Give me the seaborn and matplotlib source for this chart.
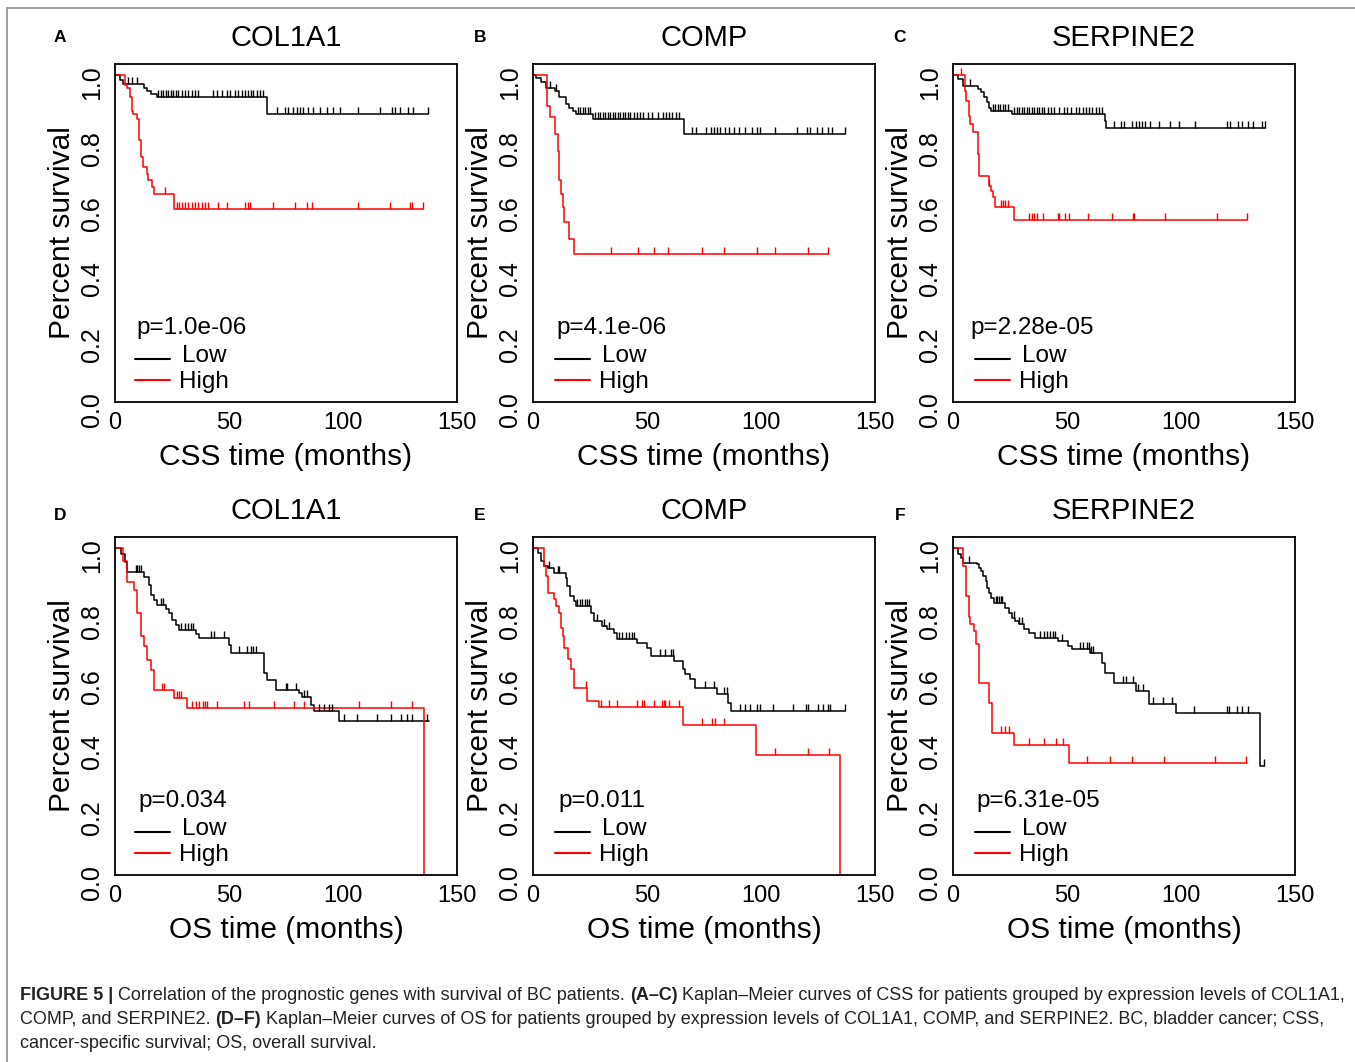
import matplotlib
matplotlib.use("Agg")
import matplotlib.pyplot as plt
import numpy as np
import seaborn as sns
from matplotlib.markers import MarkerStyle
from matplotlib.patches import Rectangle
from matplotlib.transforms import Affine2D

# ---- data (months, survival fraction) ----
genes = ["COL1A1", "COMP", "SERPINE2", "COL1A1", "COMP", "SERPINE2"]
letters = ["A", "B", "C", "D", "E", "F"]
pvalues = ["p=1.0e-06", "p=4.1e-06", "p=2.28e-05", "p=0.034", "p=0.011", "p=6.31e-05"]
xlabels = ["CSS time (months)"] * 3 + ["OS time (months)"] * 3

a_low_t = [0, 2.2, 3.7, 12.8, 14.2, 15.6, 18.3, 66.7, 137.4]
a_low_s = [1.0, 0.985, 0.971, 0.961, 0.951, 0.941, 0.931, 0.880, 0.880]
a_low_cens = [5.8, 7.3, 9.8, 19.0, 20.0, 21.2, 22.2, 23.4, 24.4, 25.6, 26.8, 27.8, 29.2, 30.7,
              32.2, 33.6, 35.1, 36.5, 43.1, 44.6, 46.8, 49.0, 50.4, 52.6, 54.1, 55.6, 57.0, 58.5,
              59.5, 60.7, 62.1, 63.6, 65.1, 70.9, 74.6, 76.0, 78.2, 79.7, 81.1, 82.6, 84.8, 87.0,
              89.9, 92.8, 95.8, 98.7, 106.7, 116.2, 121.3, 122.8, 125.0, 128.7, 130.9, 137.4]
a_high_t = [0, 4.4, 5.1, 6.6, 7.3, 8.0, 9.8, 10.7, 11.3, 12.4, 13.9, 14.6, 16.1, 17.1, 25.9, 135.2]
a_high_s = [1.0, 0.97, 0.961, 0.931, 0.89, 0.88, 0.865, 0.80, 0.748, 0.717, 0.697, 0.677, 0.656,
            0.636, 0.59, 0.59]
a_high_cens = [21.9, 27.0, 28.1, 29.2, 30.7, 32.2, 33.6, 35.1, 36.5, 38.0, 39.5, 40.9, 45.3, 49.0,
               57.0, 58.5, 59.2, 69.4, 78.9, 84.1, 86.3, 106.7, 120.6, 129.4, 130.1, 135.2]

b_low_t = [0, 1.5, 3.6, 5.8, 9.5, 11.6, 14.6, 16.0, 17.5, 18.9, 26.2, 66.4, 136.8]
b_low_s = [1.0, 0.99, 0.977, 0.96, 0.95, 0.931, 0.91, 0.90, 0.89, 0.88, 0.865, 0.819, 0.819]
b_low_cens = [7.3, 10.2, 19.7, 20.7, 21.8, 23.0, 24.0, 25.0, 27.3, 28.5, 29.5, 30.6, 31.7, 32.7,
              33.9, 34.9, 36.1, 37.2, 38.3, 39.3, 40.5, 41.6, 42.6, 44.1, 45.5, 47.0, 48.4, 50.6,
              52.0, 55.0, 56.8, 58.2, 59.7, 61.1, 62.6, 64.0, 69.9, 71.3, 75.7, 77.9, 79.3, 80.8,
              82.2, 84.4, 85.9, 88.1, 90.3, 93.2, 96.1, 98.3, 99.7, 106.3, 115.7, 120.1, 121.5,
              124.5, 126.6, 129.5, 131.0, 136.8]
b_high_t = [0, 6.1, 7.3, 9.5, 10.9, 11.6, 12.4, 13.1, 13.8, 15.7, 17.8, 129.5]
b_high_s = [1.0, 0.905, 0.87, 0.82, 0.768, 0.68, 0.636, 0.595, 0.549, 0.498, 0.453, 0.453]
b_high_cens = [34.2, 45.9, 53.1, 59.0, 74.2, 83.7, 98.3, 106.3, 120.8, 129.5]

c_low_t = [0, 2.2, 4.4, 10.9, 12.4, 13.8, 14.8, 15.7, 16.7, 25.9, 66.7, 67.2, 136.8]
c_low_s = [1.0, 0.987, 0.966, 0.956, 0.946, 0.931, 0.916, 0.90, 0.89, 0.88, 0.86, 0.837, 0.837]
c_low_cens = [7.3, 17.5, 18.6, 19.7, 20.7, 21.8, 23.0, 24.0, 26.9, 27.9, 29.1, 30.3, 31.3, 32.5,
              33.5, 34.6, 35.7, 36.8, 37.8, 39.0, 40.0, 41.5, 42.9, 44.4, 46.6, 48.8, 50.2, 51.7,
              53.9, 55.3, 56.8, 58.2, 59.7, 61.1, 62.6, 64.0, 65.5, 70.6, 73.5, 75.0, 78.6, 80.1,
              81.5, 83.0, 84.4, 86.6, 90.2, 95.3, 99.0, 106.3, 120.1, 121.5, 125.2, 126.6, 129.5,
              131.7, 135.4, 136.8]
c_high_t = [0, 5.1, 5.8, 6.8, 7.6, 8.7, 10.9, 11.6, 15.7, 16.7, 17.5, 18.6, 26.9, 128.8]
c_high_s = [1.0, 0.95, 0.92, 0.875, 0.85, 0.824, 0.758, 0.692, 0.661, 0.646, 0.626, 0.595, 0.556,
            0.556]
c_high_cens = [3.3, 16.0, 21.1, 22.1, 23.0, 24.0, 33.5, 34.6, 35.7, 36.7, 39.6, 45.9, 46.6, 49.1,
               50.7, 59.0, 69.6, 78.9, 79.3, 92.9, 115.7, 128.8]

d_low_t = [0, 2.5, 4.5, 5.4, 12.7, 14.9, 15.7, 17.1, 18.6, 22.2, 23.7, 25.2, 26.6, 28.1, 35.4, 36.9,
           50.0, 50.7, 65.4, 66.8, 70.5, 80.7, 82.2, 85.8, 87.3, 98.3, 137.7]
d_low_s = [1.0, 0.98, 0.956, 0.926, 0.91, 0.885, 0.855, 0.84, 0.824, 0.814, 0.80, 0.78, 0.763,
           0.748, 0.738, 0.723, 0.702, 0.677, 0.616, 0.596, 0.565, 0.555, 0.545, 0.52, 0.50, 0.472,
           0.472]
d_low_cens = [9.1, 9.8, 10.5, 11.6, 20.0, 21.2, 28.8, 30.6, 32.0, 33.2, 34.4, 42.0, 43.4, 47.8,
              54.4, 58.0, 59.5, 60.7, 61.7, 74.9, 75.6, 79.3, 82.9, 84.4, 89.5, 91.7, 93.9, 95.3,
              100.4, 106.3, 115.1, 120.9, 125.3, 128.2, 130.4, 137.0]
d_high_t = [0, 3.4, 5.4, 8.3, 9.8, 11.3, 12.7, 14.2, 15.7, 17.1, 25.9, 31.4, 135.5]
d_high_s = [1.0, 0.96, 0.895, 0.87, 0.80, 0.73, 0.70, 0.657, 0.626, 0.565, 0.54, 0.51, 0.0]
d_high_cens = [20.8, 21.5, 27.4, 28.1, 28.8, 33.9, 35.4, 36.9, 38.8, 39.3, 40.5, 44.9, 56.6, 58.8,
               69.7, 78.5, 82.9, 107.0, 120.9, 130.4]

e_low_t = [0, 2.0, 3.5, 4.9, 6.4, 9.3, 14.4, 15.1, 16.3, 18.0, 18.8, 25.3, 26.8, 30.4, 32.6, 35.5,
           36.7, 45.7, 50.1, 51.8, 61.7, 65.8, 66.8, 69.0, 71.2, 80.6, 85.7, 86.8, 136.7]
e_low_s = [1.0, 0.985, 0.96, 0.944, 0.939, 0.924, 0.908, 0.883, 0.852, 0.837, 0.822, 0.80, 0.776,
           0.761, 0.751, 0.741, 0.722, 0.71, 0.695, 0.669, 0.654, 0.629, 0.613, 0.598, 0.573, 0.552,
           0.527, 0.501, 0.501]
e_low_cens = [7.1, 10.8, 11.5, 19.5, 20.7, 21.7, 22.7, 23.9, 24.6, 28.2, 31.2, 33.3, 37.7, 39.2,
              40.6, 42.1, 43.5, 44.5, 55.9, 58.1, 60.6, 61.3, 75.5, 79.2, 83.6, 85.0, 90.8, 93.0,
              95.2, 98.1, 99.6, 105.4, 114.1, 119.9, 120.7, 125.0, 127.2, 129.4, 130.1, 136.7]
e_high_t = [0, 4.9, 5.7, 6.7, 9.3, 10.0, 11.5, 12.2, 13.0, 13.7, 15.4, 16.6, 18.0, 23.6, 29.0, 65.8,
            97.8, 134.5]
e_high_s = [1.0, 0.944, 0.915, 0.863, 0.842, 0.822, 0.80, 0.756, 0.73, 0.695, 0.66, 0.629, 0.573,
            0.532, 0.512, 0.458, 0.366, 0.0]
e_high_cens = [23.1, 29.7, 33.3, 36.7, 45.7, 47.9, 48.6, 53.0, 56.6, 57.3, 58.1, 59.5, 63.9, 74.1,
               78.5, 79.9, 83.6, 106.1, 120.7, 129.8]

f_low_t = [0, 2.0, 3.5, 4.6, 10.7, 11.4, 12.2, 13.3, 14.3, 15.1, 15.8, 16.5, 18.0, 23.0, 24.5, 25.9,
           27.4, 28.8, 31.0, 33.2, 36.1, 46.2, 50.6, 52.0, 60.0, 65.5, 66.5, 70.4, 80.3, 86.1, 97.7,
           134.5, 136.5]
f_low_s = [1.0, 0.98, 0.97, 0.954, 0.949, 0.939, 0.929, 0.913, 0.898, 0.878, 0.863, 0.847, 0.832,
           0.817, 0.80, 0.786, 0.776, 0.766, 0.751, 0.741, 0.725, 0.715, 0.70, 0.69, 0.68, 0.649,
           0.618, 0.588, 0.563, 0.522, 0.496, 0.334, 0.334]
f_low_cens = [7.1, 18.7, 19.4, 20.1, 20.9, 21.6, 26.7, 28.8, 30.3, 38.3, 39.7, 41.2, 42.6, 43.8,
              44.8, 47.7, 55.7, 57.1, 58.6, 59.7, 60.7, 61.4, 74.5, 75.7, 78.8, 81.0, 83.2, 87.5,
              91.9, 96.2, 105.7, 120.1, 120.9, 124.5, 126.7, 129.6, 136.5]
f_high_t = [0, 4.4, 5.8, 6.8, 7.6, 9.0, 10.2, 11.2, 11.6, 15.7, 17.2, 26.9, 50.9, 128.8]
f_high_s = [1.0, 0.944, 0.853, 0.79, 0.766, 0.746, 0.705, 0.659, 0.588, 0.527, 0.435, 0.398, 0.341,
            0.341]
f_high_cens = [20.9, 23.0, 24.5, 33.2, 39.7, 45.2, 48.4, 58.6, 69.0, 78.4, 92.6, 115.1, 128.6]

caption_lines = [
    [("FIGURE 5 |", True), ("Correlation of the prognostic genes with survival of BC patients.", False),
     ("(A–C)", True),
     ("Kaplan–Meier curves of CSS for patients grouped by expression levels of COL1A1,", False)],
    [("COMP, and SERPINE2.", False), ("(D–F)", True),
     ("Kaplan–Meier curves of OS for patients grouped by expression levels of COL1A1, COMP, and "
      "SERPINE2. BC, bladder cancer; CSS,", False)],
    [("cancer-specific survival; OS, overall survival.", False)],
]

panels = [
    (a_low_t, a_low_s, a_low_cens, a_high_t, a_high_s, a_high_cens),
    (b_low_t, b_low_s, b_low_cens, b_high_t, b_high_s, b_high_cens),
    (c_low_t, c_low_s, c_low_cens, c_high_t, c_high_s, c_high_cens),
    (d_low_t, d_low_s, d_low_cens, d_high_t, d_high_s, d_high_cens),
    (e_low_t, e_low_s, e_low_cens, e_high_t, e_high_s, e_high_cens),
    (f_low_t, f_low_s, f_low_cens, f_high_t, f_high_s, f_high_cens),
]

# ---- style ----
W, H = 1355, 1062
sns.set_theme(style="white")
plt.rcParams["font.family"] = ["Liberation Sans", "DejaVu Sans"]
plt.rcParams["text.color"] = "black"
plt.rcParams["axes.labelcolor"] = "black"
plt.rcParams["axes.edgecolor"] = "black"
plt.rcParams["axes.linewidth"] = 1.3
plt.rcParams["xtick.color"] = "black"
plt.rcParams["ytick.color"] = "black"
plt.rcParams["xtick.labelcolor"] = "black"
plt.rcParams["ytick.labelcolor"] = "black"

fig = plt.figure(figsize=(W / 100, H / 100), dpi=100)

ax_left = [115, 533, 953]
ax_top = [64, 537]
ax_w, ax_h = 342, 338
p_x = [0.064, 0.069, 0.05, 0.068, 0.073, 0.07]
leg_x = [0.058, 0.064, 0.064, 0.058, 0.064, 0.064]
letter_x = [60, 480, 900]
letter_y = [38, 515]

tick_marker = MarkerStyle("|", transform=Affine2D().translate(0, 0.5))


def step_value(t, s, c):
    idx = np.searchsorted(np.asarray(t), np.asarray(c), side="right") - 1
    return np.asarray(s)[idx]


for i, (lt, ls, lc, ht, hs, hc) in enumerate(panels):
    r, col = divmod(i, 3)
    left = ax_left[col]
    top = ax_top[r]
    ax = fig.add_axes([left / W, 1 - (top + ax_h) / H, ax_w / W, ax_h / H])

    for t, s, cens, color in [(lt, ls, lc, "black"), (ht, hs, hc, "red")]:
        sns.lineplot(x=t, y=s, ax=ax, color=color, lw=1.1, drawstyle="steps-post",
                     estimator=None, sort=False)
        sns.scatterplot(x=cens, y=step_value(t, s, cens), ax=ax, marker=tick_marker,
                        color=color, s=24, linewidth=1.0, zorder=3)

    ax.set_xlim(0, 150)
    ax.set_ylim(0, 1.033)
    ax.set_xticks([0, 50, 100, 150])
    ax.set_yticks([0, 0.2, 0.4, 0.6, 0.8, 1.0])
    ax.set_yticklabels(["0.0", "0.2", "0.4", "0.6", "0.8", "1.0"])
    ax.tick_params(axis="both", direction="out", length=5, width=1.1, colors="black")
    ax.tick_params(axis="x", labelsize=17, pad=2)
    ax.tick_params(axis="y", labelsize=18, labelrotation=90, pad=3)
    for sp in ax.spines.values():
        sp.set_visible(True)
        sp.set_color("black")
        sp.set_linewidth(1.3)
    ax.set_title(genes[i], fontsize=21, pad=13, color="black")
    ax.set_xlabel(xlabels[i], fontsize=21.5, labelpad=7)
    ax.set_ylabel("Percent survival", fontsize=21.5, labelpad=3)

    # legend block (R style)
    ax.text(p_x[i], 0.219, pvalues[i], transform=ax.transAxes, fontsize=17.5,
            ha="left", va="center")
    x0 = leg_x[i]
    ax.plot([x0, x0 + 0.103], [0.127, 0.127], transform=ax.transAxes, color="black", lw=1.5)
    ax.plot([x0, x0 + 0.103], [0.064, 0.064], transform=ax.transAxes, color="red", lw=1.5)
    ax.text(x0 + 0.138, 0.135, "Low", transform=ax.transAxes, fontsize=17.5, ha="left", va="center")
    ax.text(x0 + 0.130, 0.060, "High", transform=ax.transAxes, fontsize=17.5, ha="left", va="center")

    fig.text(letter_x[col] / W, 1 - letter_y[r] / H, letters[i], fontsize=12.5,
             fontweight="bold", ha="center", va="center")

# outer frame
fig.add_artist(Rectangle((7 / W, -0.01), 1.02, 1 - 8 / H + 0.01, transform=fig.transFigure,
                         fill=False, edgecolor="#8c8c8c", lw=1.2))

# caption with mixed bold / regular runs
cap_family = ["Liberation Sans Narrow", "Liberation Sans"]
renderer = fig.canvas.get_renderer()


def run_width(txt, bold, size):
    t = fig.text(0, 0, txt, fontsize=size, fontweight="bold" if bold else "normal",
                 family=cap_family)
    w = t.get_window_extent(renderer).width
    t.remove()
    return w


def line_width(parts, size):
    gap = 0.27 * size * 100 / 72
    return sum(run_width(s, b, size) for s, b in parts) + gap * (len(parts) - 1)


cap_size = 13.0
cap_size = cap_size * 1325 / line_width(caption_lines[0], cap_size)
gap = 0.27 * cap_size * 100 / 72
for k, parts in enumerate(caption_lines):
    x = 20
    y = 995 + 24 * k
    for s, b in parts:
        fig.text(x / W, 1 - y / H, s, fontsize=cap_size, fontweight="bold" if b else "normal",
                 family=cap_family, ha="left", va="center", color="#222222")
        x += run_width(s, b, cap_size) + gap

fig.savefig("out.png", dpi=100)
